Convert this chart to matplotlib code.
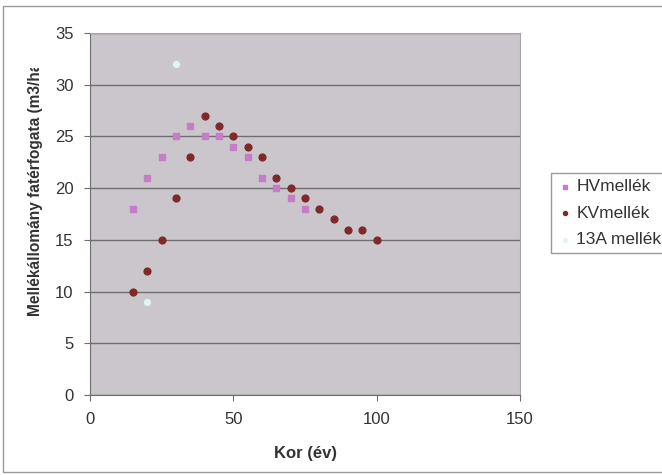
import matplotlib
matplotlib.use("Agg")
import matplotlib.pyplot as plt
from matplotlib.transforms import Bbox, TransformedBbox
from matplotlib.patches import Rectangle

plt.rcParams['font.family'] = ['Liberation Sans', 'DejaVu Sans']

# data
hv_kor = [15, 20, 25, 30, 35, 40, 45, 50, 55, 60, 65, 70, 75]
hv_val = [18, 21, 23, 25, 26, 25, 25, 24, 23, 21, 20, 19, 18]

kv_kor = [15, 20, 25, 30, 35, 40, 45, 50, 55, 60, 65, 70, 75, 80, 85, 90, 95, 100]
kv_val = [10, 12, 15, 19, 23, 27, 26, 25, 24, 23, 21, 20, 19, 18, 17, 16, 16, 15]

a13_kor = [20, 30]
a13_val = [9, 32]

W, H = 662, 475
fig = plt.figure(figsize=(W / 100, H / 100), dpi=100)
ax = fig.add_axes([90 / W, 1 - 395 / H, (520 - 90) / W, (395 - 33) / H])
ax.set_facecolor('#cbc6cb')

# outer frame of the chart (right side runs off the picture)
fig.patches.append(Rectangle((3 / W, 3 / H), 1.1, 1 - 9 / H, transform=fig.transFigure,
                             fill=False, edgecolor='#9a9a9a', linewidth=1))

ax.scatter(hv_kor, hv_val, marker='s', s=22, color='#c67cc8', label='HVmellék', zorder=3)
ax.scatter(kv_kor, kv_val, marker='o', s=24, color='#7e2a2a', label='KVmellék', zorder=3)
ax.scatter(a13_kor, a13_val, marker='o', s=18, color='#dff4f4', label='13A mellék', zorder=3)

ax.set_xlim(0, 150)
ax.set_ylim(0, 35)
ax.set_xticks([0, 50, 100, 150])
ax.set_yticks(range(0, 36, 5))
ax.yaxis.grid(True, color='#6e6e6e', linewidth=1)
ax.set_axisbelow(True)
for s in ['top', 'right']:
    ax.spines[s].set_color('#a9a4a9')
for s in ['left', 'bottom']:
    ax.spines[s].set_color('#6e6e6e')
ax.tick_params(labelsize=12, color='#6e6e6e', length=4, colors='#333333')
ax.tick_params(axis='x', pad=8)
ax.tick_params(axis='y', pad=8)

ax.set_xlabel('Kor (év)', fontsize=12, fontweight='bold', color='#333333', labelpad=14)

# y label is cut off at the top like in the original
ylab = fig.text(36 / W, 1 - 316 / H, 'Mellékállomány fatérfogata (m3/ha)', rotation=90,
                ha='center', va='bottom', fontsize=11.2, fontweight='bold', color='#333333')
ylab.set_clip_on(True)
ylab.set_clip_box(TransformedBbox(Bbox([[0, 0.0], [1, 1 - 68 / H]]), fig.transFigure))

fig.legend(loc='upper left', bbox_to_anchor=(551 / W, 1 - 173 / H), fontsize=12.5,
           frameon=True, fancybox=False, edgecolor='#9a9a9a', framealpha=1,
           markerscale=0.6, handletextpad=0.2, handlelength=0.9, borderpad=0.35,
           labelspacing=0.65, borderaxespad=0, labelcolor='#333333')

fig.savefig('out.png', dpi=100)
